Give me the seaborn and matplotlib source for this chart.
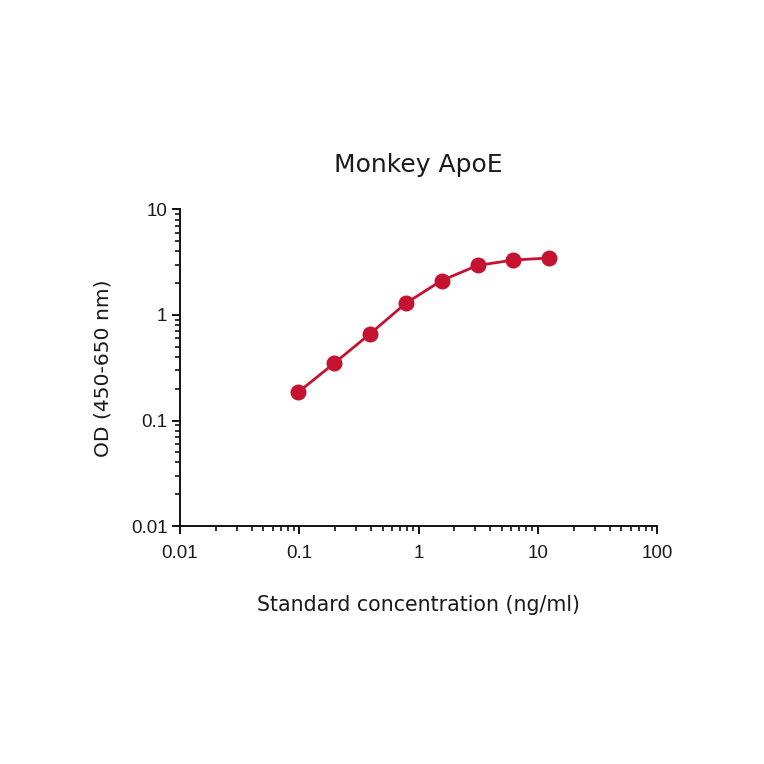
import matplotlib
matplotlib.use("Agg")
import matplotlib.pyplot as plt
import matplotlib.ticker as mticker
import pandas as pd
import seaborn as sns

# Standard curve values
concentration = [0.0977, 0.195, 0.39, 0.78, 1.56, 3.125, 6.25, 12.5]
od_values = [0.185, 0.347, 0.66, 1.29, 2.12, 2.95, 3.32, 3.47]
x_ticks = [0.01, 0.1, 1, 10, 100]
x_tick_labels = ["0.01", "0.1", "1", "10", "100"]
y_ticks = [0.01, 0.1, 1, 10]
y_tick_labels = ["0.01", "0.1", "1", "10"]

sns.set_style("ticks")
plt.rcParams["font.family"] = ["Liberation Sans", "DejaVu Sans"]

red = "#c41230"
text_col = "#1a1a1a"
df = pd.DataFrame({"conc": concentration, "od": od_values})

fig = plt.figure(figsize=(7.64, 7.64), dpi=100)
ax = fig.add_axes([0.2356, 0.3115, 0.6245, 0.4143])

sns.lineplot(data=df, x="conc", y="od", ax=ax, color=red, linewidth=2.0,
             marker="o", markersize=11.5, markeredgewidth=0, markerfacecolor=red)

ax.set_xscale("log")
ax.set_yscale("log")
ax.set_xlim(0.01, 100)
ax.set_ylim(0.01, 10)
ax.set_xticks(x_ticks)
ax.set_xticklabels(x_tick_labels)
ax.set_yticks(y_ticks)
ax.set_yticklabels(y_tick_labels)
ax.xaxis.set_minor_locator(mticker.LogLocator(base=10, subs=range(2, 10), numticks=20))
ax.yaxis.set_minor_locator(mticker.LogLocator(base=10, subs=range(2, 10), numticks=20))
ax.xaxis.set_minor_formatter(mticker.NullFormatter())
ax.yaxis.set_minor_formatter(mticker.NullFormatter())

for side in ["top", "right"]:
    ax.spines[side].set_visible(False)
for side in ["left", "bottom"]:
    ax.spines[side].set_linewidth(1.4)
    ax.spines[side].set_color("#111111")

ax.tick_params(which="major", length=6, width=1.4, labelsize=13.5, colors="#111111",
               labelcolor=text_col)
ax.tick_params(axis="x", which="major", pad=7.5)
ax.tick_params(axis="y", which="major", pad=3)
ax.tick_params(which="minor", length=3.5, width=1.2, colors="#111111")

ax.set_title("Monkey ApoE", fontsize=18, family=["DejaVu Sans"], color=text_col, pad=27)
ax.set_xlabel("Standard concentration (ng/ml)", fontsize=14.8,
              family=["DejaVu Sans"], color=text_col, labelpad=24)
ax.set_ylabel("OD (450-650 nm)", fontsize=14.6,
              family=["DejaVu Sans"], color=text_col, labelpad=13)

fig.savefig("out.png", dpi=100, facecolor="white")
